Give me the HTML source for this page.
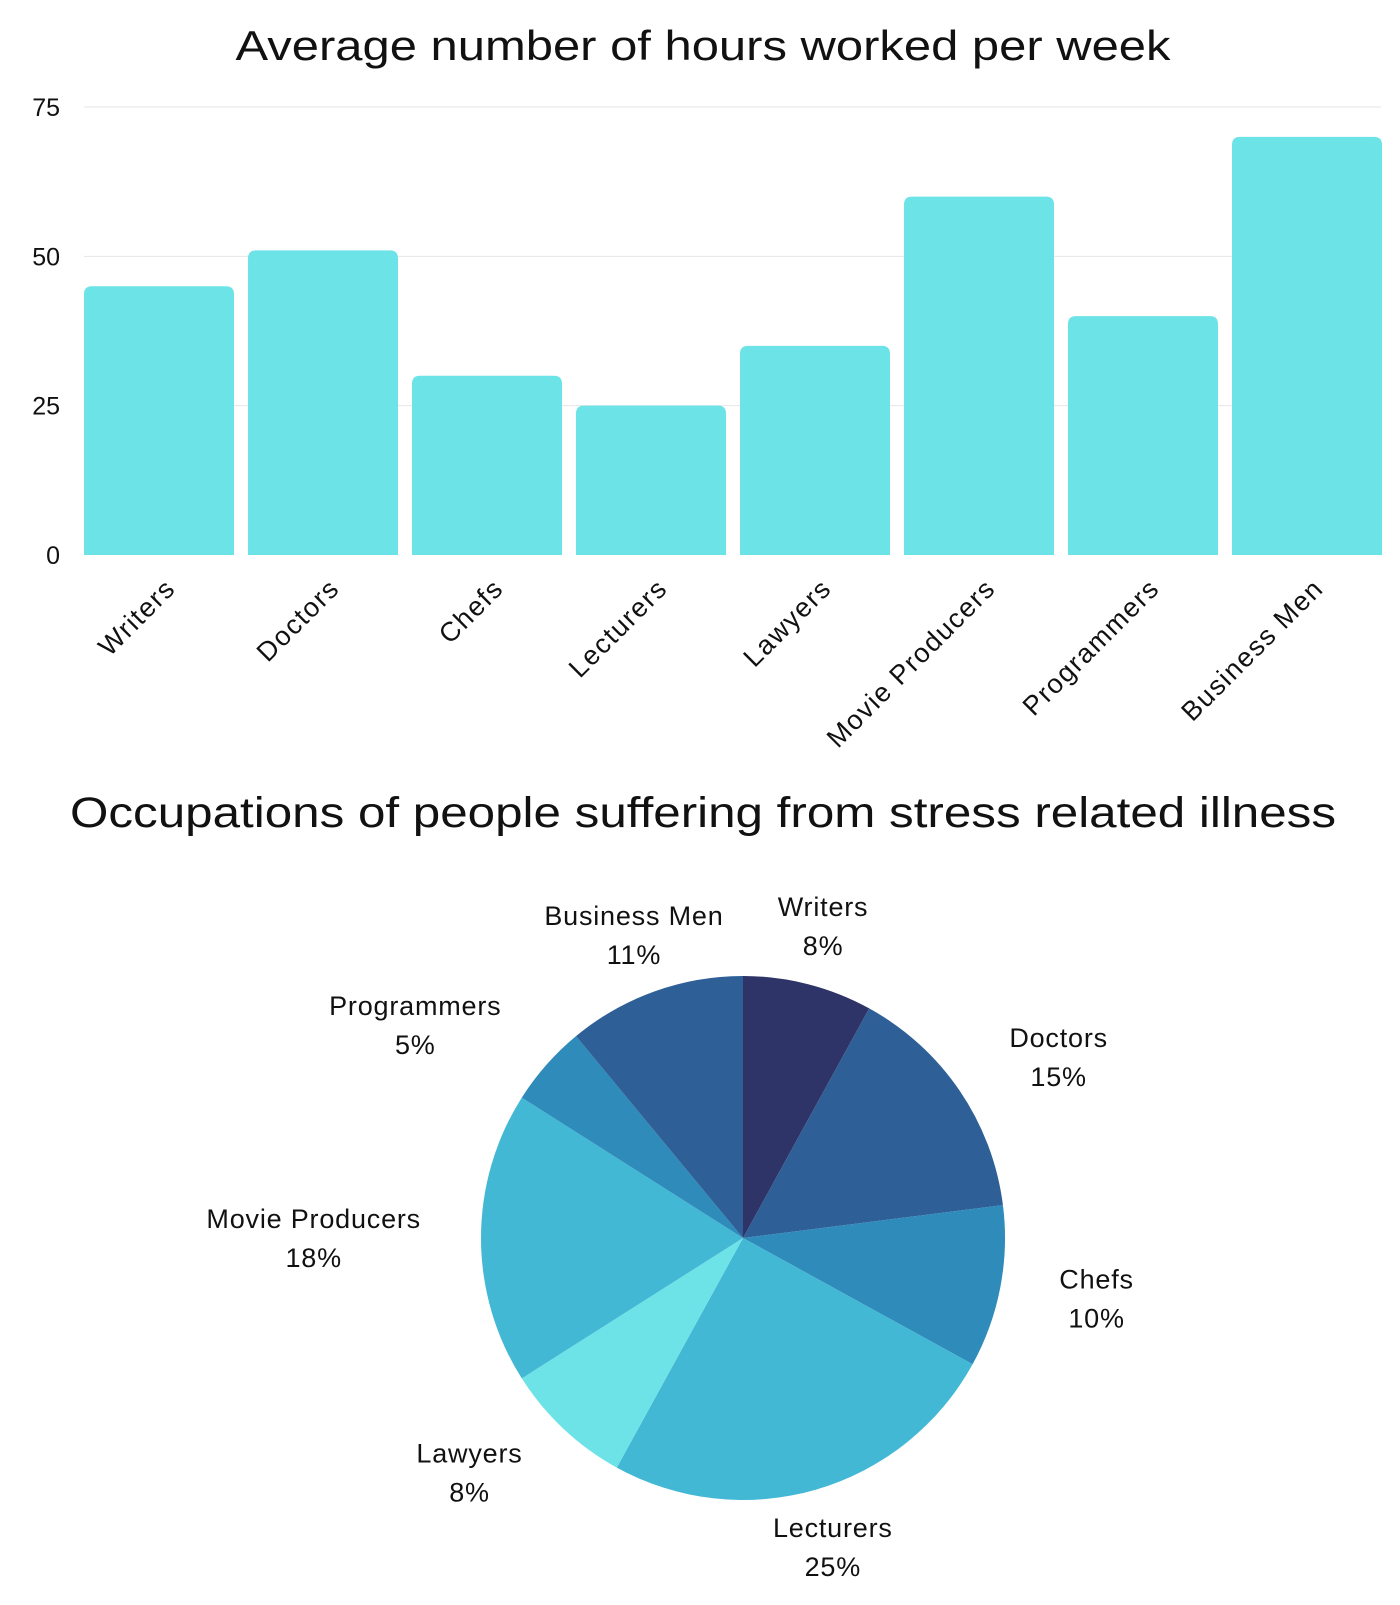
<!DOCTYPE html>
<html><head><meta charset="utf-8"><style>
body{margin:0;background:#fff;width:1400px;height:1600px;overflow:hidden}
svg text{font-family:"Liberation Sans",sans-serif;fill:#111}
</style></head><body>
<svg id="c" width="1400" height="1600">
<text x="703" y="60" text-anchor="middle" font-size="42" textLength="935" lengthAdjust="spacingAndGlyphs">Average number of hours worked per week</text>
<text x="703" y="827" text-anchor="middle" font-size="43" textLength="1266" lengthAdjust="spacingAndGlyphs">Occupations of people suffering from stress related illness</text>
<g id="bars"></g><g id="pie"></g>
</svg>
<script>
const categories=["Writers","Doctors","Chefs","Lecturers","Lawyers","Movie Producers","Programmers","Business Men"];
const hours=[45,51,30,25,35,60,40,70];
const yTicks=[0,25,50,75];
const pieLabels=["Writers","Doctors","Chefs","Lecturers","Lawyers","Movie Producers","Programmers","Business Men"];
const pieValues=[8,15,10,25,8,18,5,11];
const pieColors=["#2f3468","#2e5f96","#2e8bba","#42b8d5","#6de3e7","#42b8d5","#2e8bba","#2e5f96"];
const NS="http://www.w3.org/2000/svg";
function mk(t,a,p){const e=document.createElementNS(NS,t);for(const k in a)e.setAttribute(k,a[k]);p.appendChild(e);return e;}
const bars=document.getElementById('bars');
const y0=555,y75=107;
const y=v=>y0-(v/75)*(y0-y75);
const x=i=>84+i*164;
yTicks.forEach(t=>{
 if(t>0){const l=mk('line',{x1:84,x2:1381,y1:y(t),y2:y(t),stroke:'#e6e6e6','stroke-width':1},bars);
 
 }
 const tx=mk('text',{x:60,y:y(t)+9,'text-anchor':'end','font-size':25},bars);tx.textContent=t;
 
 
});
hours.forEach((v,i)=>{
 const p=mk('path',{d:`M${x(i)},${y0} V${y(v)+8} Q${x(i)},${y(v)} ${x(i)+8},${y(v)} H${x(i)+142} Q${x(i)+150},${y(v)} ${x(i)+150},${y(v)+8} V${y0} Z`,fill:'#6ce3e7'},bars);
 
 
 const cx=x(i)+75+18,cy=590;
 const t=mk('text',{x:cx,y:cy,'text-anchor':'end','font-size':27,'letter-spacing':1.5,transform:`rotate(-45 ${cx} ${cy})`},bars);
 t.textContent=categories[i];
 
 
});
const pie=document.getElementById('pie');
const pcx=743,pcy=1238,R=262;
const total=pieValues.reduce((a,b)=>a+b,0);
let acc=0;
pieValues.forEach((v,i)=>{
 const a0=acc/total*2*Math.PI,a1=(acc+v)/total*2*Math.PI;acc+=v;
 const P=a=>[pcx+R*Math.sin(a),pcy-R*Math.cos(a)];
 const [x0,y0_]=P(a0),[x1,y1]=P(a1);
 const s=mk('path',{d:`M${pcx},${pcy} L${x0},${y0_} A${R},${R} 0 ${a1-a0>Math.PI?1:0} 1 ${x1},${y1} Z`,fill:pieColors[i]},pie);
 
 
 const am=(a0+a1)/2,LR=322;
 const sn=Math.sin(am);
 const lx=pcx+LR*sn,ly=pcy-LR*Math.cos(am);
 const anchor=Math.abs(sn)<0.45?'middle':(sn>0?'start':'end');
 const g=mk('text',{x:lx,y:ly-10,'text-anchor':'middle','font-size':27,'letter-spacing':0.8},pie);
 
 
 const t1=mk('tspan',{x:lx,'text-anchor':'middle'},g);t1.textContent=pieLabels[i];
 const t2=mk('tspan',{x:lx,dy:39,'text-anchor':'middle'},g);t2.textContent=v+'%';
 if(anchor!=='middle'){
  const w=t1.getComputedTextLength();
  const shift=(anchor==='start'?1:-1)*w/2;
  t1.setAttribute('x',lx+shift);t2.setAttribute('x',lx+shift);
 }
});
</script>
</body></html>
